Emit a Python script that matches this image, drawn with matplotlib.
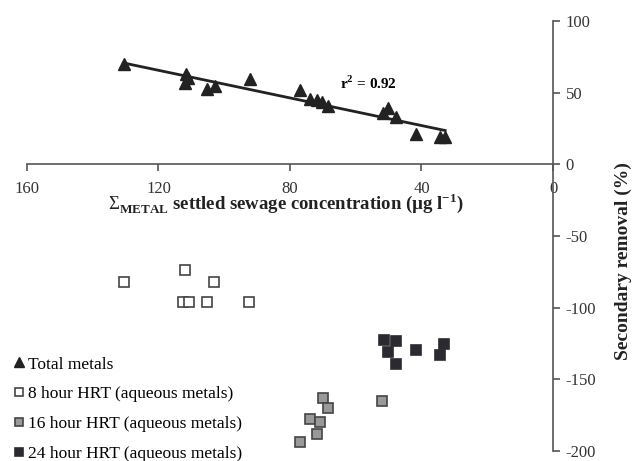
import numpy as np
import matplotlib.pyplot as plt

plt.rcParams['font.family'] = ['Liberation Serif', 'DejaVu Serif']
plt.rcParams['mathtext.fontset'] = 'custom'
plt.rcParams['mathtext.rm'] = 'Liberation Serif'
plt.rcParams['mathtext.bf'] = 'Liberation Serif:bold'
plt.rcParams['axes.unicode_minus'] = False

# Total metals: settled sewage concentration vs secondary removal
total_x = [130.4, 111.6, 110.9, 111.9, 105.2, 102.7, 92.1, 76.9, 73.9, 71.7,
           70.2, 68.4, 51.7, 50.2, 47.7, 41.6, 34.3, 32.8]
total_y = [69.8, 63.0, 60.5, 56.5, 52.3, 54.4, 59.3, 51.6, 45.4, 44.7,
           43.3, 40.5, 35.6, 39.1, 32.8, 20.9, 18.8, 18.8]

# aqueous metals
hrt8_x = [130.4, 111.9, 103.0, 112.5, 110.6, 105.2, 92.4]
hrt8_y = [-82.3, -74.0, -82.3, -96.3, -96.3, -96.3, -96.3]

hrt16_x = [69.9, 68.4, 73.9, 70.8, 71.7, 76.9, 52.0]
hrt16_y = [-163.3, -170.3, -178.0, -180.0, -188.4, -194.0, -165.4]

hrt24_x = [51.4, 47.7, 50.2, 47.7, 41.6, 33.1, 34.3]
hrt24_y = [-122.8, -123.5, -131.2, -139.6, -129.8, -125.6, -133.3]

x_ticks = [160, 120, 80, 40, 0]
y_ticks = [100, 50, 0, -50, -100, -150, -200]
r2_label = 'r$^{\\mathbf{2}}$ = 0.92'

fig = plt.figure(figsize=(6.32, 4.61), dpi=100)
ax = fig.add_axes([0.0427, 0.0217, 0.8323, 0.9327])

# regression of total metals
b, a = np.polyfit(total_x, total_y, 1)
fx = np.array([max(total_x), min(total_x)])
ax.plot(fx, a + b * fx, color='#222222', lw=2.0, zorder=2)

ax.plot(total_x, total_y, ls='none', marker='^', ms=9, color='#222222',
        label='Total metals', zorder=3)
ax.plot(hrt8_x, hrt8_y, ls='none', marker='s', ms=7, mfc='white', mec='#444444',
        mew=1.2, label='8 hour HRT (aqueous metals)')
ax.plot(hrt16_x, hrt16_y, ls='none', marker='s', ms=7, mfc='#999999', mec='#444444',
        mew=1.2, label='16 hour HRT (aqueous metals)')
ax.plot(hrt24_x, hrt24_y, ls='none', marker='s', ms=7, mfc='#2a2a30', mec='#2a2a30',
        mew=1.2, label='24 hour HRT (aqueous metals)')

ax.text(56, 56.5, r2_label, fontsize=11, fontweight='bold', ha='center', va='center')

ax.set_xlim(160, 0)
ax.set_ylim(-200, 100)
ax.set_xticks(x_ticks)
ax.set_yticks(y_ticks)

for s in ['left', 'top']:
    ax.spines[s].set_visible(False)
ax.spines['bottom'].set_position(('data', 0))
ax.spines['right'].set_position(('data', 0))
for s in ['bottom', 'right']:
    ax.spines[s].set_color('#555555')
    ax.spines[s].set_linewidth(1.2)

ax.yaxis.tick_right()
ax.tick_params(axis='both', direction='out', length=5, width=1.2, color='#555555',
               labelsize=12, labelcolor='#333333')
ax.tick_params(axis='x', pad=7)
ax.tick_params(axis='y', pad=4)

fig.text(286 / 632, 1 - 203 / 461,
         r'$\Sigma_{\mathbf{METAL}}$ settled sewage concentration (µg l$^{\mathbf{-1}}$)',
         fontsize=13.5, fontweight='bold', ha='center', va='center', color='#222222')
fig.text(623 / 632, 1 - 261 / 461, 'Secondary removal (%)', rotation=90,
         fontsize=14, fontweight='bold', ha='center', va='center', color='#222222')

leg = ax.legend(loc='lower left', bbox_to_anchor=(-0.045, -0.042), frameon=False,
                fontsize=12.5, handletextpad=0.0, handlelength=1.0, markerscale=0.8,
                labelspacing=0.79, borderaxespad=0)

fig.savefig('out.png', dpi=100)
